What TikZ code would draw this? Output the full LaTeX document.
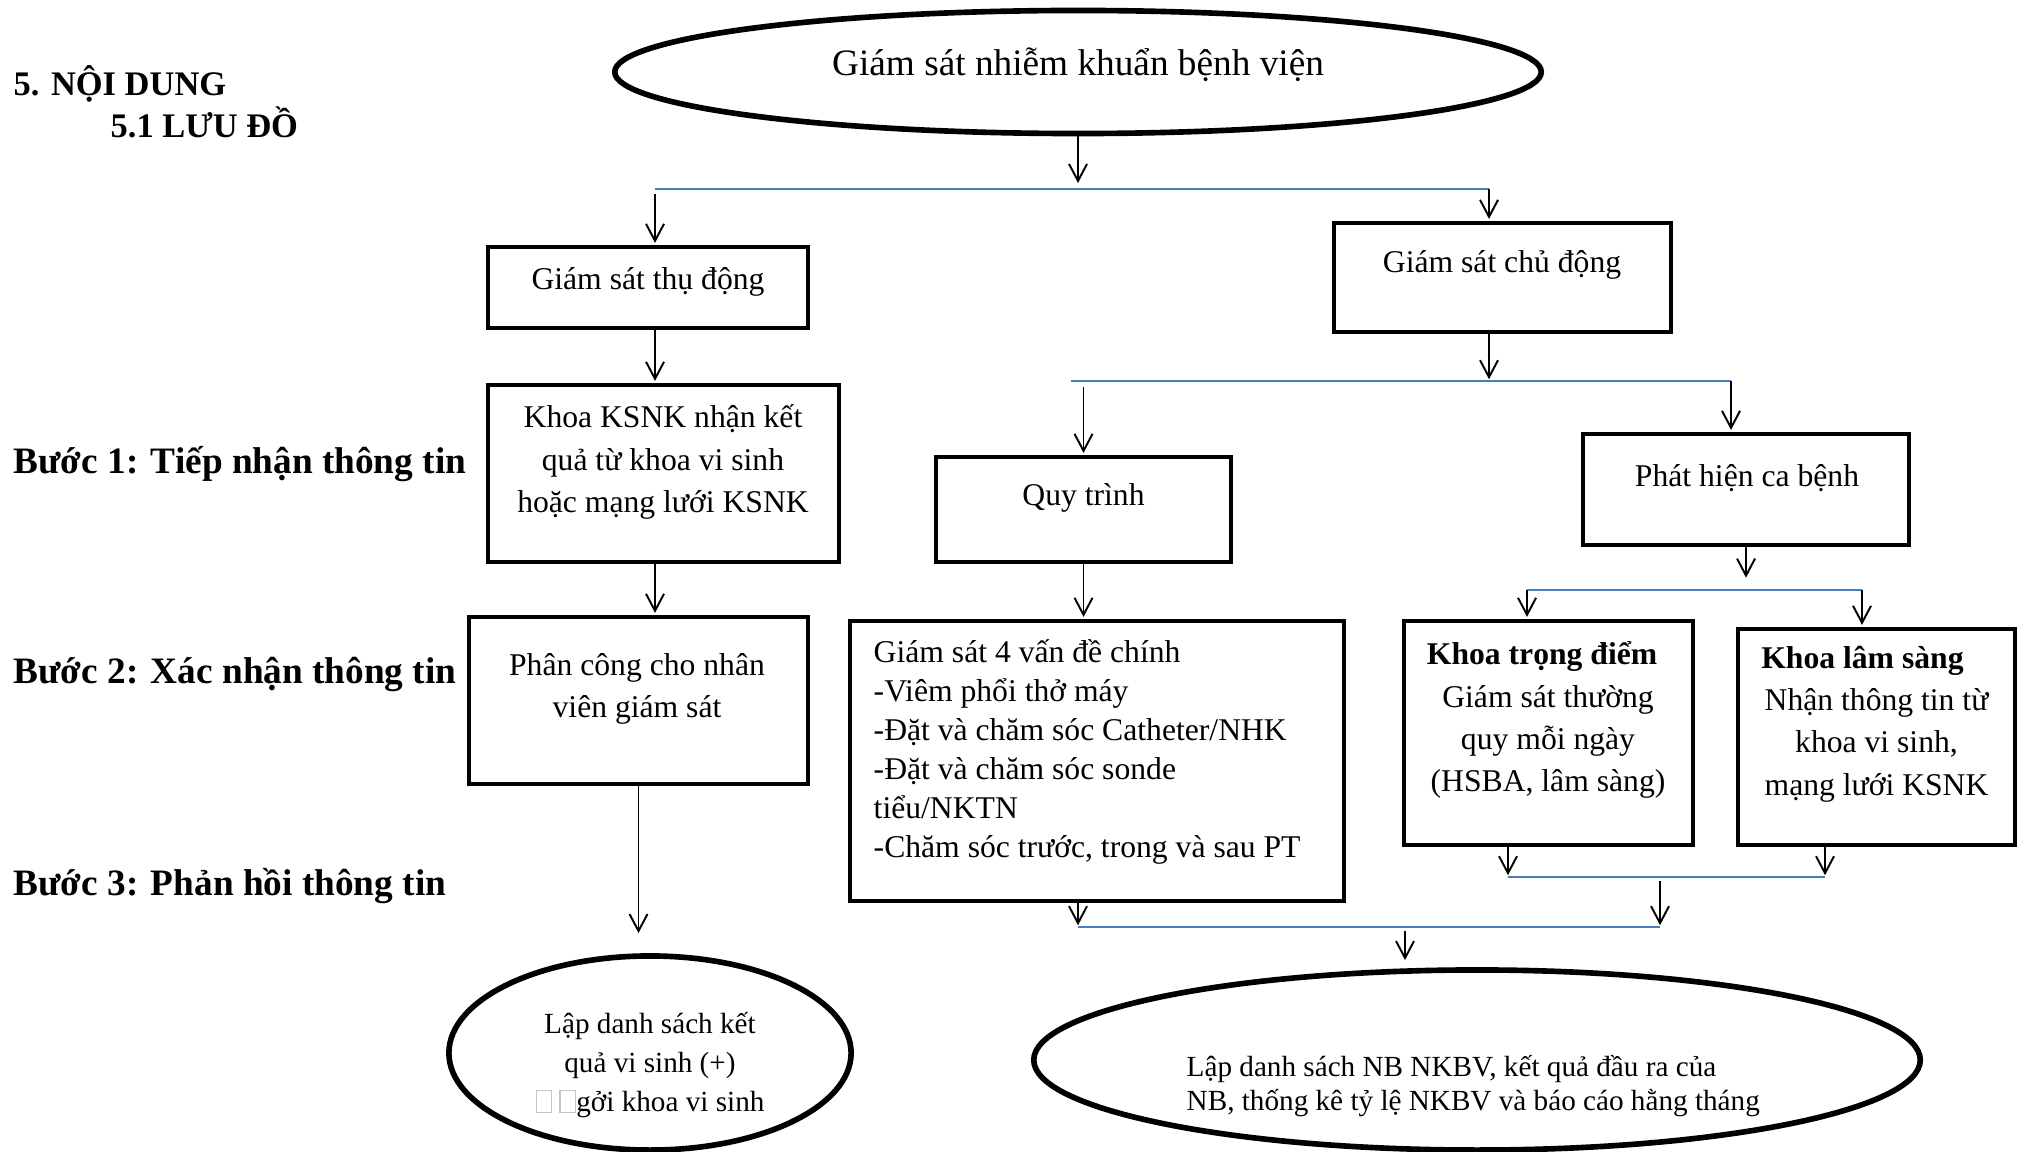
\documentclass[tikz,border=0pt]{standalone}
\usepackage{fontspec}
\setmainfont{Liberation Serif}
\usetikzlibrary{shapes.geometric,arrows.meta,positioning}
\definecolor{barblue}{RGB}{74,126,187}
\newcommand{\nobox}{\textcolor{gray!45}{\fboxsep=0pt\fboxrule=0.4pt\fbox{\rule{0pt}{5.8pt}\hspace{4pt}}}}
\tikzset{box/.style={draw, rectangle, line width=1.3pt, inner sep=0pt}}
\tikzset{oval/.style={draw, ellipse, line width=1.6pt, inner sep=0pt}}
\tikzset{txt/.style={align=center, inner sep=0pt, font=\fontsize{9}{12}\selectfont}}
\tikzset{head/.style={anchor=west, inner sep=0pt, font=\bfseries\fontsize{9.8}{12}\selectfont}}
\tikzset{stephead/.style={anchor=west, inner sep=0pt, font=\bfseries\fontsize{10.6}{13}\selectfont}}
\tikzset{bar/.style={draw=barblue, line width=0.6pt, shorten >=0pt}}
\tikzset{arr/.style={->, line width=0.55pt}}

\begin{document}
\begin{tikzpicture}[x=0.01cm, y=-0.01cm, >={Straight Barb[length=1.7mm,width=1.8mm]}, shorten >=0.5pt]
\useasboundingbox (0,0) rectangle (2025,1152);

\node[head] (H1) at (13,84) {5. NỘI DUNG};
\node[head] (H2) at (110,122) {5.1 LƯU ĐỒ};
\node[stephead] (S1) at (13,464) {Bước 1: Tiếp nhận thông tin};
\node[stephead] (S2) at (13,674) {Bước 2: Xác nhận thông tin};
\node[stephead] (S3) at (13,886) {Bước 3: Phản hồi thông tin};

\node[oval, minimum width=9.26cm, minimum height=1.23cm] (N0) at (1078,72) {};
\node[txt, font=\fontsize{10.6}{13}\selectfont] (T0) at (1078,65) {Giám sát nhiễm khuẩn bệnh viện};
\node[box, minimum width=3.2cm, minimum height=0.81cm] (N1) at (648,287.5) {};
\node[txt] (T1) at (648,282) {Giám sát thụ động};
\node[box, minimum width=3.37cm, minimum height=1.09cm] (N2) at (1502.5,277.5) {};
\node[txt] (T2) at (1502,265) {Giám sát chủ động};
\node[box, minimum width=3.51cm, minimum height=1.77cm] (N3) at (663.5,473.5) {};
\node[txt] (T3) at (663,462) {Khoa KSNK nhận kết\\quả từ khoa vi sinh\\hoặc mạng lưới KSNK};
\node[box, minimum width=2.95cm, minimum height=1.05cm] (N4) at (1083.5,509.5) {};
\node[txt] (T4) at (1083.5,498) {Quy trình};
\node[box, minimum width=3.26cm, minimum height=1.11cm] (N5) at (1746,489.5) {};
\node[txt] (T5) at (1747,478) {Phát hiện ca bệnh};
\node[box, minimum width=3.39cm, minimum height=1.67cm] (N6) at (638.5,700.5) {};
\node[txt] (T6) at (637,688.5) {Phân công cho nhân\\viên giám sát};
\node[box, minimum width=4.94cm, minimum height=2.8cm] (N7) at (1097,761) {};
\node[txt, anchor=west, align=left, font=\fontsize{9}{11.1}\selectfont] (T7) at (873,752) {Giám sát 4 vấn đề chính\\-Viêm phổi thở máy\\-Đặt và chăm sóc Catheter/NHK\\-Đặt và chăm sóc sonde\\tiểu/NKTN\\-Chăm sóc trước, trong và sau PT};
\node[box, minimum width=2.89cm, minimum height=2.24cm] (N8) at (1548.5,733) {};
\node[txt] (T8) at (1548,720) {\textbf{Khoa trọng điểm}\rule{3.4pt}{0pt}\\Giám sát thường\\quy mỗi ngày\\(HSBA, lâm sàng)};
\node[box, minimum width=2.77cm, minimum height=2.16cm] (N9) at (1876.5,737) {};
\node[txt] (T9) at (1876.5,724) {\textbf{Khoa lâm sàng}\rule{8pt}{0pt}\\Nhận thông tin từ\\khoa vi sinh,\\mạng lưới KSNK};
\node[oval, minimum width=4.02cm, minimum height=1.94cm] (N10) at (650,1053) {};
\node[txt, font=\fontsize{8.3}{11.2}\selectfont] (T10) at (650,1065) {Lập danh sách kết\\quả vi sinh (+)\\\nobox\hspace{2pt}\nobox gởi khoa vi sinh};
\node[oval, minimum width=8.86cm, minimum height=1.8cm] (N11) at (1477,1060) {};
\node[txt, anchor=west, align=left, font=\fontsize{8.3}{9.5}\selectfont] (T11) at (1186,1086) {Lập danh sách NB NKBV, kết quả đầu ra của\\NB, thống kê tỷ lệ NKBV và báo cáo hằng tháng};

\coordinate (L1a) at (655,189);
\coordinate (L1b) at (1489,189);
\coordinate (L1m) at (1078,189);
\coordinate (L2a) at (1071,381);
\coordinate (L2b) at (1731,381);
\coordinate (L3a) at (1527,590);
\coordinate (L3b) at (1862,590);
\coordinate (L4a) at (1508,877);
\coordinate (L4b) at (1825,877);
\coordinate (L5a) at (1078,927);
\coordinate (L5b) at (1660,927);
\coordinate (L5m) at (1405,927);

\draw[bar] (L1a) -- (L1b);
\draw[bar] (L2a) -- (L2b);
\draw[bar] (L3a) -- (L3b);
\draw[bar] (L4a) -- (L4b);
\draw[bar] (L5a) -- (L5b);

\draw[arr, shorten >=1.7pt] (N0) -- (L1m);
\draw[arr, shorten <=1.5pt] (L1a) -- (L1a |- N1.north);
\draw[arr] (L1b) -- (L1b |- N2.north);
\draw[arr] (L1a |- N1.south) -- (L1a |- N3.north);
\draw[arr] (L1b |- N2.south) -- (L1b |- L2a);
\draw[arr, shorten <=1.7pt] (N4.north |- L2a) -- (N4.north);
\draw[arr] (L2b) -- (L2b |- N5.north);
\draw[arr] (L1a |- N3.south) -- (L1a |- N6.north);
\draw[arr] (N4.south) -- (N4.south |- N7.north);
\draw[arr, shorten >=3.5pt] (N5.south) -- (N5.south |- L3a);
\draw[arr] (L3a) -- (L3a |- N8.north);
\draw[arr] (L3b) -- (L3b |- N9.north);
\draw[arr] (L4a |- N8.south) -- (L4a);
\draw[arr] (L4b |- N9.south) -- (L4b);
\draw[arr, shorten <=1pt] (L5b |- L4a) -- (L5b);
\draw[arr] (L5a |- N7.south) -- (L5a);
\draw[arr, shorten <=1pt, shorten >=2pt] (L5m) -- (L5m |- N11.north);
\draw[arr, shorten >=5.7pt] (N6.south) -- (N6.south |- N10.north);
\end{tikzpicture}
\end{document}
